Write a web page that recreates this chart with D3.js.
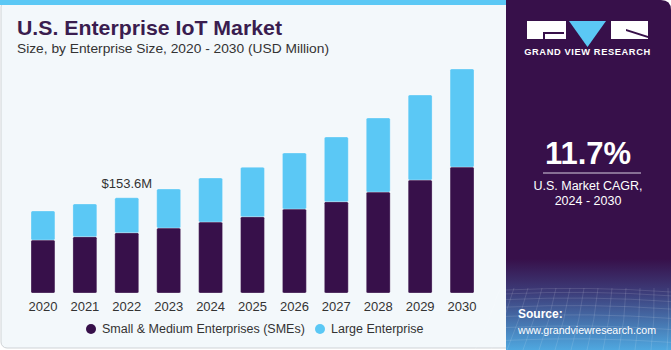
<!DOCTYPE html>
<html>
<head>
<meta charset="utf-8">
<script src="https://cdn.jsdelivr.net/npm/d3@7"></script>
<style>
  body { margin: 0; background: #fff; }
  svg { display: block; font-family: "Liberation Sans", Arial, sans-serif; }
</style>
</head>
<body>
<div id="chart"></div>
<script>
// data (USD Million)
const years = ["2020", "2021", "2022", "2023", "2024", "2025", "2026", "2027", "2028", "2029", "2030"];
const smeValues = [85.4, 90.8, 97.2, 104.8, 114.5, 123.0, 135.4, 147.2, 162.8, 182.2, 203.1];
const largeValues = [46.8, 52.7, 56.4, 62.8, 70.9, 79.6, 90.3, 104.3, 119.3, 137.0, 158.0];
const seriesNames = ["Small & Medium Enterprises (SMEs)", "Large Enterprise"];
const annotatedYear = "2022";
const cagrText = "11.7%";

const W = 671, H = 350;
const purple = "#37104a", blue = "#5bc8f5";

const svg = d3.select("#chart").append("svg")
  .attr("width", W)
  .attr("height", H);

const defs = svg.append("defs");
const grad = defs.append("linearGradient")
  .attr("id", "panelGrad")
  .attr("x1", 0).attr("y1", 0).attr("x2", 0).attr("y2", 1);
grad.append("stop").attr("offset", "0%").attr("stop-color", purple);
grad.append("stop").attr("offset", "74%").attr("stop-color", purple);
grad.append("stop").attr("offset", "84%").attr("stop-color", "#3d3f7c");
grad.append("stop").attr("offset", "100%").attr("stop-color", "#4fa8e0");

// left light panel
svg.append("rect")
  .attr("x", 1).attr("y", 1)
  .attr("width", 530).attr("height", 347)
  .attr("rx", 6)
  .attr("fill", "#f3f8fb")
  .attr("stroke", "#cfd3d6");

svg.append("rect")
  .attr("x", 0).attr("y", 0)
  .attr("width", 506).attr("height", 5)
  .attr("fill", blue);

// right purple panel
svg.append("path")
  .attr("d", `M506,0 H661 Q671,0 671,10 V350 H506 Z`)
  .attr("fill", "url(#panelGrad)");

// faint mesh in the bottom of the panel
const mesh = svg.append("g").attr("stroke", "#ffffff").attr("stroke-opacity", 0.12).attr("fill", "none");
for (let i = 0; i < 9; i++) {
  const y = 290 + i * i * 0.9 + i * 3;
  mesh.append("path").attr("d", `M506,${y} Q590,${y - 4} 671,${y + 2}`);
}
for (let i = 0; i < 14; i++) {
  const x = 500 + i * 14;
  mesh.append("path").attr("d", `M${x},288 Q${x - 10 + i},320 ${x - 25 + i * 2},350`);
}

// logo
const logo = svg.append("g");
logo.append("rect").attr("x", 527).attr("y", 21).attr("width", 39).attr("height", 18).attr("fill", "#fff");
logo.append("path").attr("d", "M543,32 H564 V34 H545 V39 H543 Z").attr("fill", purple);
logo.append("path").attr("d", "M569,21 H606 L587.5,47 Z").attr("fill", blue);
logo.append("rect").attr("x", 611).attr("y", 21).attr("width", 37).attr("height", 18).attr("fill", "#fff");
logo.append("path").attr("d", "M626,29 L648,36 V38 L626,31 Z").attr("fill", purple);
logo.append("text")
  .attr("x", 587.5).attr("y", 55)
  .attr("text-anchor", "middle")
  .attr("fill", "#fff")
  .attr("font-size", 9.3)
  .attr("font-weight", "bold")
  .attr("letter-spacing", 0.6)
  .text("GRAND VIEW RESEARCH");

// CAGR block
svg.append("text")
  .attr("x", 588).attr("y", 164)
  .attr("text-anchor", "middle")
  .attr("fill", "#fff")
  .attr("font-size", 31)
  .attr("font-weight", "bold")
  .text(cagrText);
svg.append("line")
  .attr("x1", 543).attr("x2", 641)
  .attr("y1", 173).attr("y2", 173)
  .attr("stroke", "#d9cfe0").attr("stroke-width", 1);
svg.append("text")
  .attr("x", 588).attr("y", 190)
  .attr("text-anchor", "middle")
  .attr("fill", "#fff")
  .attr("font-size", 12.5)
  .text("U.S. Market CAGR,");
svg.append("text")
  .attr("x", 588).attr("y", 205)
  .attr("text-anchor", "middle")
  .attr("fill", "#fff")
  .attr("font-size", 12.5)
  .text("2024 - 2030");

svg.append("text")
  .attr("x", 518).attr("y", 318)
  .attr("fill", "#fff")
  .attr("font-size", 12)
  .attr("font-weight", "bold")
  .text("Source:");
svg.append("text")
  .attr("x", 518).attr("y", 334)
  .attr("fill", "#fff")
  .attr("font-size", 11.5)
  .attr("textLength", 138)
  .attr("lengthAdjust", "spacingAndGlyphs")
  .text("www.grandviewresearch.com");

// titles
svg.append("text")
  .attr("x", 17).attr("y", 35)
  .attr("fill", "#3a1d4f")
  .attr("font-size", 20.5)
  .attr("font-weight", "bold")
  .attr("textLength", 265)
  .attr("lengthAdjust", "spacingAndGlyphs")
  .text("U.S. Enterprise IoT Market");
svg.append("text")
  .attr("x", 17).attr("y", 53)
  .attr("fill", "#333")
  .attr("font-size", 13.5)
  .attr("textLength", 312)
  .attr("lengthAdjust", "spacingAndGlyphs")
  .text("Size, by Enterprise Size, 2020 - 2030 (USD Million)");

// chart
const x = d3.scaleBand()
  .domain(years)
  .range([13, 492])
  .paddingInner(0.43)
  .paddingOuter(0.43);

const y = d3.scaleLinear()
  .domain([0, 400])
  .range([293, 44.9]);

const rows = years.map((yr, i) => ({ year: yr, sme: smeValues[i], large: largeValues[i] }));
const stacked = d3.stack().keys(["sme", "large"])(rows);
const colors = [purple, blue];

const g = svg.append("g");
g.selectAll("g.series")
  .data(stacked)
  .join("g")
    .attr("class", "series")
    .attr("fill", (d, i) => colors[i])
  .selectAll("rect")
  .data(d => d)
  .join("rect")
    .attr("x", d => x(d.data.year))
    .attr("width", x.bandwidth())
    .attr("y", d => y(d[1]))
    .attr("height", d => y(d[0]) - y(d[1]))
    .attr("rx", 1.5)
    .attr("stroke", "#ffffff")
    .attr("stroke-opacity", 0.35)
    .attr("stroke-width", 0.8);

// x axis labels
const xAxis = svg.append("g")
  .attr("transform", "translate(0,294)")
  .call(d3.axisBottom(x).tickSize(0).tickPadding(8));
xAxis.select(".domain").remove();
xAxis.selectAll("text")
  .attr("font-size", 13)
  .attr("font-family", "'Liberation Sans', Arial, sans-serif")
  .attr("fill", "#333");

// annotation
const ai = years.indexOf(annotatedYear);
const total = smeValues[ai] + largeValues[ai];
svg.append("text")
  .attr("x", x(annotatedYear) + x.bandwidth() / 2)
  .attr("y", y(total) - 10)
  .attr("text-anchor", "middle")
  .attr("fill", "#333")
  .attr("font-size", 13)
  .text("$" + total.toFixed(1) + "M");

// legend
const legend = svg.append("g");
const legendItems = [
  { name: seriesNames[0], color: purple, x: 91 },
  { name: seriesNames[1], color: blue, x: 320 }
];
legendItems.forEach(item => {
  legend.append("circle")
    .attr("cx", item.x).attr("cy", 329)
    .attr("r", 5)
    .attr("fill", item.color);
  legend.append("text")
    .attr("x", item.x + 11).attr("y", 333)
    .attr("fill", "#333")
    .attr("font-size", 12.5)
    .text(item.name);
});
</script>
</body>
</html>
